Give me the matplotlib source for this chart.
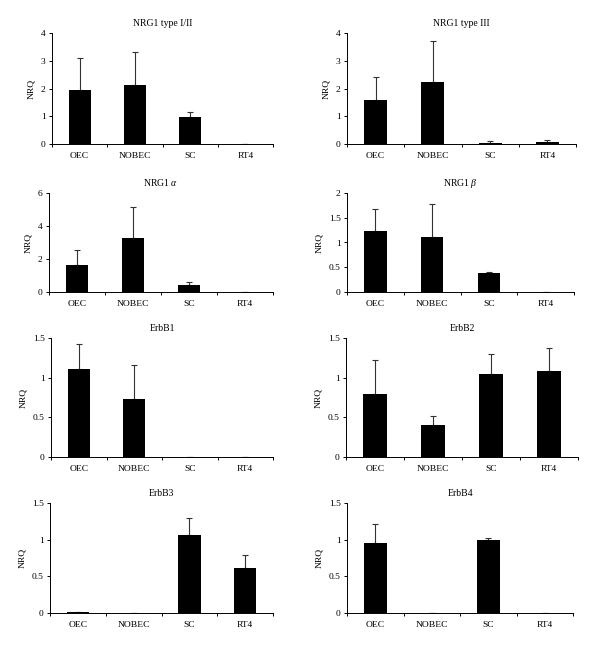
import matplotlib
matplotlib.use('Agg')
import matplotlib.pyplot as plt
from matplotlib.ticker import FuncFormatter

plt.rcParams['font.family'] = ['Liberation Serif', 'DejaVu Serif']
plt.rcParams['mathtext.fontset'] = 'custom'
plt.rcParams['mathtext.rm'] = 'Liberation Serif'
plt.rcParams['mathtext.it'] = 'Liberation Serif:italic'

cells = ['OEC', 'NOBEC', 'SC', 'RT4']

titles = ['NRG1 type I/II', 'NRG1 type III', r'NRG1 $\alpha$', r'NRG1 $\beta$',
          'ErbB1', 'ErbB2', 'ErbB3', 'ErbB4']

nrg1_12 = [1.95, 2.11, 0.99, 0.0]
nrg1_12_err = [1.16, 1.19, 0.17, 0.0]
nrg1_3 = [1.57, 2.23, 0.05, 0.08]
nrg1_3_err = [0.84, 1.48, 0.05, 0.08]
nrg1_a = [1.65, 3.29, 0.45, 0.0]
nrg1_a_err = [0.87, 1.85, 0.16, 0.0]
nrg1_b = [1.23, 1.12, 0.39, 0.0]
nrg1_b_err = [0.45, 0.65, 0.01, 0.0]
erbb1 = [1.11, 0.735, 0.0, 0.0]
erbb1_err = [0.31, 0.425, 0.0, 0.0]
erbb2 = [0.80, 0.40, 1.04, 1.08]
erbb2_err = [0.42, 0.12, 0.26, 0.30]
erbb3 = [0.015, 0.0, 1.06, 0.62]
erbb3_err = [0.005, 0.0, 0.24, 0.17]
erbb4 = [0.96, 0.005, 1.0, 0.002]
erbb4_err = [0.26, 0.0, 0.02, 0.0]

means = [nrg1_12, nrg1_3, nrg1_a, nrg1_b, erbb1, erbb2, erbb3, erbb4]
errs = [nrg1_12_err, nrg1_3_err, nrg1_a_err, nrg1_b_err,
        erbb1_err, erbb2_err, erbb3_err, erbb4_err]
ymax = [4, 4, 6, 2, 1.5, 1.5, 1.5, 1.5]
ystep = [1, 1, 2, 0.5, 0.5, 0.5, 0.5, 0.5]

# panel boxes in pixels: left, right, top, bottom
boxes = [(52, 273, 33, 144), (347, 576, 33, 144),
         (49, 273, 193, 292), (347, 574, 193, 292),
         (51, 273, 338, 457), (346, 578, 338, 457),
         (50, 273, 503, 613), (347, 573, 503, 613)]

W, H = 600, 650
fig = plt.figure(figsize=(6, 6.5), dpi=100)

for i in range(8):
    l, r, t, b = boxes[i]
    ax = fig.add_axes([l / W, 1 - b / H, (r - l) / W, (b - t) / H])
    x = range(len(cells))
    ax.bar(x, means[i], width=0.4, color='black', zorder=2)
    ax.errorbar(x, means[i], yerr=[[0] * 4, errs[i]], fmt='none',
                ecolor='#333333', elinewidth=0.8, capsize=2.2, capthick=0.8, zorder=1)
    ax.set_xlim(-0.5, 3.5)
    ax.set_ylim(0, ymax[i])
    n = int(round(ymax[i] / ystep[i]))
    ax.set_yticks([k * ystep[i] for k in range(n + 1)])
    ax.yaxis.set_major_formatter(FuncFormatter(lambda v, p: '%g' % v))
    ax.set_xticks([-0.5, 0.5, 1.5, 2.5, 3.5])
    ax.set_xticklabels([])
    ax.set_xticks(list(x), minor=True)
    ax.set_xticklabels(cells, minor=True)
    ax.tick_params(axis='x', which='minor', length=0, labelsize=6.8, pad=6)
    ax.tick_params(axis='x', which='major', length=2.5, width=0.7, direction='out')
    ax.tick_params(axis='y', length=2.5, width=0.7, direction='out', labelsize=6.8, pad=2)
    for s in ['top', 'right']:
        ax.spines[s].set_visible(False)
    for s in ['left', 'bottom']:
        ax.spines[s].set_linewidth(0.7)
    ax.set_ylabel('NRQ', fontsize=6.8, labelpad=4)
    ax.set_title(titles[i], fontsize=7, pad=5)

fig.savefig('out.png', dpi=100)
